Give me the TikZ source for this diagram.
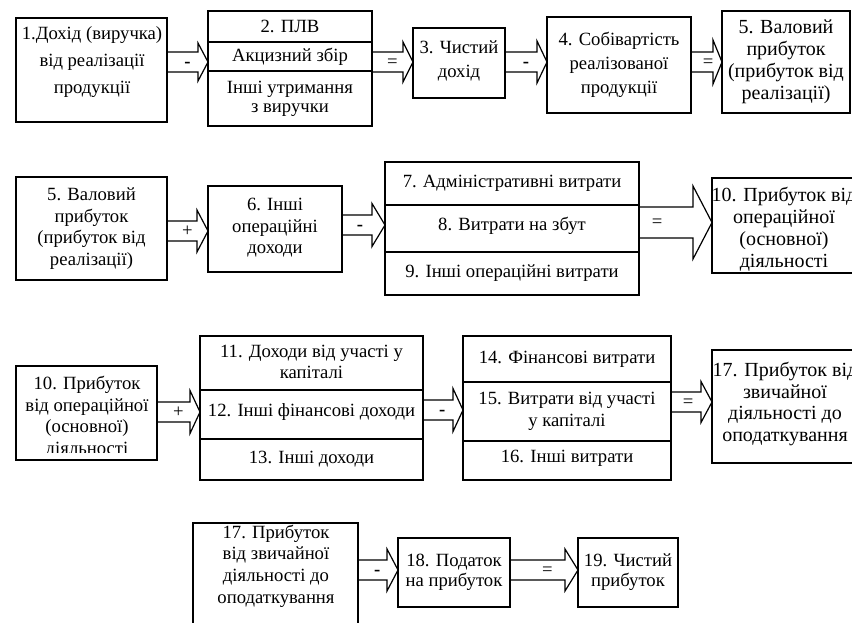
\documentclass[tikz,border=0pt]{standalone}
\usepackage{fontspec}
\setmainfont{Liberation Serif}
\usetikzlibrary{calc,fit}
\newcommand{\barrow}[8]{%
  \coordinate (s#1) at (#1.east |- 0,#3);
  \coordinate (t#1) at (#2.west |- 0,#3);
  \draw[arr] ($(s#1)+(0,-#4)$) -- ($(t#1)+(-#6,-#4)$) -- ($(t#1)+(-#6,-#5)$) -- (t#1)
     -- ($(t#1)+(-#6,#5)$) -- ($(t#1)+(-#6,#4)$) -- ($(s#1)+(0,#4)$);
  \node[lbl, anchor=base] (l#1) at ($($(s#1)!#8!(t#1)$)+(0,5.2)$) {#7};
}
\begin{document}
\begin{tikzpicture}[x=0.75pt,y=-0.75pt,
  box/.style={draw, line width=0.9pt, inner sep=0pt, outer sep=0pt},
  txt/.style={inner sep=0pt, align=center, font=\fontsize{14}{16.2}\selectfont},
  big/.style={font=\fontsize{15}{16.4}\selectfont},
  arr/.style={draw, line width=0.9pt, line join=miter},
  lbl/.style={inner sep=0pt, font=\fontsize{14}{16}\selectfont}]
\useasboundingbox (0,0) rectangle (852,622);
\clip (0,0) rectangle (852,622);
\fill[white] (0,0) rectangle (852,622);

% Row 1
\node[box, fit={(16,18) (167,122)}] (n1) {};
\node[txt, font=\fontsize{14}{20}\selectfont] (n1t) at (92,62) {1.Дохід (виручка)\\від реалізації\\продукції};
\node[box, fit={(208,11) (372,42)}] (n2a) {};
\node[txt] (n2at) at (n2a) {2. ПЛВ};
\node[box, fit={(208,42) (372,71)}] (n2b) {};
\node[txt] (n2bt) at (n2b) {Акцизний збір};
\node[box, fit={(208,71) (372,126)}] (n2c) {};
\node[txt, font=\fontsize{14}{14.5}\selectfont] (n2ct) at (n2c) {Інші утримання\\з виручки};
\node[box, fit={(413,28) (505,98)}] (n3) {};
\node[txt, font=\fontsize{14}{18}\selectfont] (n3t) at (459,61) {3. Чистий\\дохід};
\node[box, fit={(547,17) (691,113)}] (n4) {};
\node[txt, font=\fontsize{14}{18}\selectfont] (n4t) at (n4) {4. Собівартість\\реалізованої\\продукції};
\node[box, fit={(722,11) (850,113)}] (n5) {};
\node[txt, big] (n5t) at (n5) {5. Валовий\\прибуток\\(прибуток від\\реалізації)};

% Row 2
\node[box, fit={(16,177) (167,280)}] (n5b) {};
\node[txt] (n5bt) at (n5b) {5. Валовий\\прибуток\\(прибуток від\\реалізації)};
\node[box, fit={(208,186) (342,272)}] (n6) {};
\node[txt] (n6t) at (275,228) {6. Інші\\операційні\\доходи};
\node[box, fit={(385,162) (639,205)}] (n7) {};
\node[txt] (n7t) at (n7) {7. Адміністративні витрати};
\node[box, fit={(385,205) (639,252)}] (n8) {};
\node[txt] (n8t) at (512,226) {8. Витрати на збут};
\node[box, fit={(385,252) (639,295)}] (n9) {};
\node[txt] (n9t) at (n9) {9. Інші операційні витрати};
\node[box, fit={(712,178) (880,273)}] (n10) {};
\begin{scope}
  \clip (713,179) rectangle (880,272);
  \node[txt, big] (n10t) at (784,229) {10. Прибуток від\\операційної\\(основної)\\діяльності};
\end{scope}

% Row 3
\node[box, fit={(16,366) (157,460)}] (n10b) {};
\begin{scope}
  \clip (16,366) rectangle (157,452);
  \node[txt] (n10bt) at (87,417) {10. Прибуток\\від операційної\\(основної)\\діяльності};
\end{scope}
\node[box, fit={(200,336) (423,390)}] (n11) {};
\node[txt] (n11t) at (311.5,362) {11. Доходи від участі у\\капіталі};
\node[box, fit={(200,390) (423,439)}] (n12) {};
\node[txt] (n12t) at (311.5,412) {12. Інші фінансові доходи};
\node[box, fit={(200,439) (423,480)}] (n13) {};
\node[txt] (n13t) at (n13) {13. Інші доходи};
\node[box, fit={(463,336) (671,382)}] (n14) {};
\node[txt] (n14t) at (n14) {14. Фінансові витрати};
\node[box, fit={(463,382) (671,441)}] (n15) {};
\node[txt] (n15t) at (n15) {15. Витрати від участі\\у капіталі};
\node[box, fit={(463,441) (671,480)}] (n16) {};
\node[txt] (n16t) at (567,458) {16. Інші витрати};
\node[box, fit={(712,350) (880,463)}] (n17) {};
\begin{scope}
  \clip (713,351) rectangle (880,462);
  \node[txt, big] (n17t) at (785,404) {17. Прибуток від\\звичайної\\діяльності до\\оподаткування};
\end{scope}

% Row 4
\node[box, fit={(193,523) (358,650)}] (n17b) {};
\node[txt] (n17bt) at (276,566) {17. Прибуток\\від звичайної\\діяльності до\\оподаткування};
\node[box, fit={(398,538) (510,607)}] (n18) {};
\node[txt, font=\fontsize{14}{15}\selectfont] (n18t) at (n18) {18. Податок\\на прибуток};
\node[box, fit={(578,538) (678,607)}] (n19) {};
\node[txt, font=\fontsize{14}{15}\selectfont] (n19t) at (n19) {19. Чистий\\прибуток};

% Block arrows
\barrow{n1}{n2b}{62}{10}{19}{10}{\textbf{-}}{0.5}
\barrow{n2b}{n3}{62}{10}{20}{10}{=}{0.5}
\barrow{n3}{n4}{62}{10}{21}{10}{\textbf{-}}{0.5}
\barrow{n4}{n5}{62}{10}{22}{9}{=}{0.55}
\barrow{n5b}{n6}{231}{10}{21}{11}{+}{0.5}
\barrow{n6}{n8}{225}{10}{21.5}{13}{\textbf{-}}{0.42}
\barrow{n8}{n10}{222.5}{15.5}{36.5}{19}{=}{0.25}
\barrow{n10b}{n12}{412}{10}{21.5}{10}{+}{0.5}
\barrow{n12}{n15}{410}{10}{21.5}{10}{\textbf{-}}{0.48}
\barrow{n15}{n17}{402}{10}{20.5}{11}{=}{0.42}
\barrow{n17b}{n18}{570}{10}{21}{11}{\textbf{-}}{0.48}
\barrow{n18}{n19}{570}{10}{21}{13}{=}{0.55}
\end{tikzpicture}
\end{document}
